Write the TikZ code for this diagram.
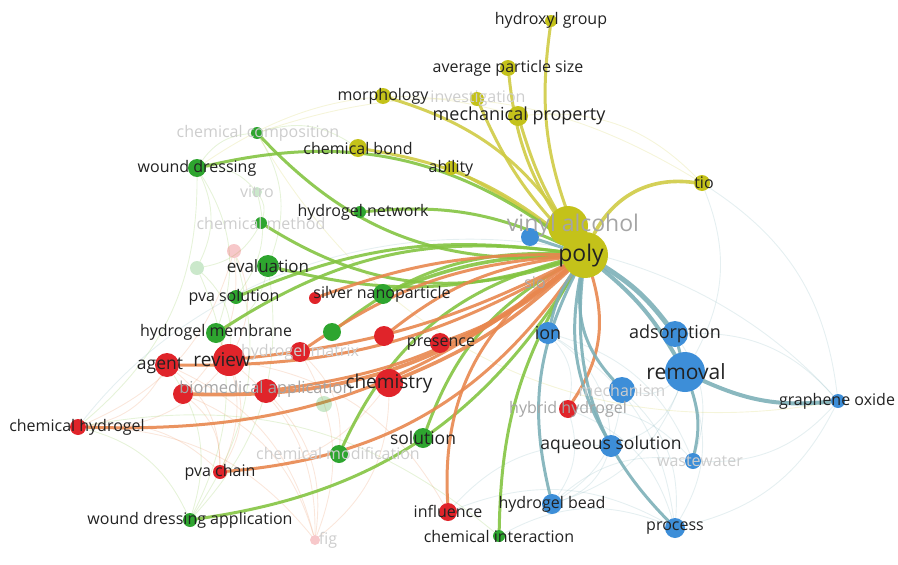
\documentclass[tikz,border=0pt]{standalone}
\usepackage{fontspec}
\setmainfont{Open Sans}
\usetikzlibrary{backgrounds}
\definecolor{yelnode}{HTML}{C4C21A}
\definecolor{grnnode}{HTML}{2EA52F}
\definecolor{rednode}{HTML}{E0242A}
\definecolor{blunode}{HTML}{3D8ED8}
\definecolor{yeledge}{HTML}{CFCB45}
\definecolor{grnedge}{HTML}{84C442}
\definecolor{rededge}{HTML}{E8874F}
\definecolor{bluedge}{HTML}{7DB0B8}
\definecolor{labeltext}{HTML}{222222}
\definecolor{dimtext}{HTML}{A5A5A5}
\definecolor{paletext}{HTML}{CDCDCD}
\tikzset{
  term/.style={circle, inner sep=0pt, minimum size=#1},
  yterm/.style={term=#1, fill=yelnode},
  gterm/.style={term=#1, fill=grnnode},
  rterm/.style={term=#1, fill=rednode},
  bterm/.style={term=#1, fill=blunode},
  ghost/.style={fill opacity=0.25},
  lbl/.style={font=\fontsize{16}{16}\selectfont, text=labeltext, inner sep=0pt},
  fs/.style={font=\fontsize{#1}{#1}\selectfont},
  dim/.style={lbl, text=dimtext},
  pale/.style={lbl, text=paletext},
  link/.style={line width=3pt, line cap=round, opacity=0.9},
  ylink/.style={link, draw=yeledge},
  glink/.style={link, draw=grnedge},
  rlink/.style={link, draw=rededge},
  blink/.style={link, draw=bluedge},
  haze/.style={line width=0.9pt, opacity=0.2}
}

\begin{document}
\begin{tikzpicture}[x=1pt, y=-1pt]
\useasboundingbox (0,0) rectangle (898,565);

% yellow cluster
\node[yterm=40] (vinyl) at (568,226) {};
\node[yterm=12] (hydroxyl) at (551,21) {};
\node[yterm=16] (avgsize) at (508,68) {};
\node[yterm=14] (invest) at (477,99) {};
\node[yterm=20] (mechprop) at (518,116) {};
\node[yterm=16] (morph) at (383,96) {};
\node[yterm=18] (chembond) at (358,148) {};
\node[yterm=14] (ability) at (451,168) {};
\node[yterm=16] (tio) at (702,183) {};
\node[yterm=8, ghost] (sio) at (535,283) {};

% blue cluster
\node[bterm=18] (bvinyl) at (530,237) {};
\node[bterm=22] (ion) at (548,333) {};
\node[bterm=26] (adsorp) at (675,334) {};
\node[bterm=40] (removal) at (685,372) {};
\node[bterm=26] (mechan) at (622,390) {};
\node[bterm=14] (graphene) at (838,401) {};
\node[bterm=22] (aqueous) at (611,446) {};
\node[bterm=16] (wastew) at (693,461) {};
\node[bterm=20] (bead) at (552,504) {};
\node[bterm=20] (process) at (675,528) {};

% green cluster
\node[gterm=12] (chemcomp) at (257,133) {};
\node[gterm=18] (wound) at (197,168) {};
\node[gterm=10, ghost] (vitro) at (257,192) {};
\node[gterm=12] (hnet) at (360,212) {};
\node[gterm=12] (chemmeth) at (261,223) {};
\node[gterm=22] (eval) at (268,266) {};
\node[gterm=14, ghost] (gfaint) at (197,268) {};
\node[gterm=14] (pvasol) at (236,297) {};
\node[gterm=20] (silver) at (383,294) {};
\node[gterm=20] (membrane) at (216,333) {};
\node[gterm=18] (gmid) at (332,332) {};
\node[gterm=16, ghost] (gfaint2) at (324,404) {};
\node[gterm=20] (solution) at (423,438) {};
\node[gterm=18] (chemmod) at (339,454) {};
\node[gterm=14] (wda) at (190,520) {};
\node[gterm=12] (chemint) at (499,536) {};

% red cluster
\node[rterm=14, ghost] (rfaint) at (234,251) {};
\node[rterm=12] (rsmall) at (315,298) {};
\node[rterm=20] (hmatrix) at (300,352) {};
\node[rterm=20] (rmid) at (384,336) {};
\node[rterm=20] (presence) at (440,343) {};
\node[rterm=24] (agent) at (167,365) {};
\node[rterm=32] (review) at (229,360) {};
\node[rterm=20] (biomeda) at (183,394) {};
\node[rterm=24] (biomedb) at (266,391) {};
\node[rterm=28] (chemistry) at (389,383) {};
\node[rterm=16] (chemhyd) at (78,427) {};
\node[rterm=14] (pvachain) at (220,472) {};
\node[rterm=18] (influence) at (448,512) {};
\node[rterm=18] (hybrid) at (568,409) {};
\node[rterm=10, ghost] (fig) at (315,540) {};

\node[yterm=46] (poly) at (585,255) {};

% labels
\node[pale] (lchemcomp) at (258,133) {chemical composition};
\node[pale] (lvitro) at (257,192) {vitro};
\node[pale] (lchemmeth) at (261,223) {chemical method};
\node[pale] (linvest) at (478,99) {investigation};
\node[pale] (lhmatrix) at (300,352) {hydrogel matrix};
\node[pale] (lchemmod) at (338,453) {chemical modification};
\node[pale] (lfig) at (328,540) {fig};
\node[pale] (lwastew) at (700,461) {wastewater};
\node[pale] (lmechan) at (622,390) {mechanism};
\node[dim, fs=23] (lvinyl) at (573,226) {vinyl alcohol};
\node[dim] (lsio) at (535,283) {sio};
\node[dim, fs=16.5] (lbiomed) at (266,389) {biomedical application};
\node[dim] (lhybrid) at (568,409) {hybrid hydrogel};

\node[lbl] (lhydroxyl) at (551,20) {hydroxyl group};
\node[lbl] (lavgsize) at (508,68) {average particle size};
\node[lbl, fs=18] (lmechprop) at (519,116) {mechanical property};
\node[lbl] (lmorph) at (383,96) {morphology};
\node[lbl] (lchembond) at (358,148) {chemical bond};
\node[lbl] (lability) at (451,168) {ability};
\node[lbl] (ltio) at (704,183) {tio};
\node[lbl, fs=23] (lpoly) at (581,256) {poly};
\node[lbl, fs=18] (lion) at (548,333) {ion};
\node[lbl, fs=18] (ladsorp) at (675,334) {adsorption};
\node[lbl, fs=21] (lremoval) at (686,372) {removal};
\node[lbl] (lgraphene) at (837,401) {graphene oxide};
\node[lbl, fs=17.5] (laqueous) at (611,445) {aqueous solution};
\node[lbl] (lbead) at (552,504) {hydrogel bead};
\node[lbl] (lprocess) at (675,528) {process};
\node[lbl] (lwound) at (197,168) {wound dressing};
\node[lbl] (lhnet) at (363,212) {hydrogel network};
\node[lbl, fs=17] (leval) at (268,266) {evaluation};
\node[lbl] (lpvasol) at (234,297) {pva solution};
\node[lbl] (lsilver) at (382,294) {silver nanoparticle};
\node[lbl] (lmembrane) at (216,332) {hydrogel membrane};
\node[lbl, fs=17.5] (lsolution) at (423,438) {solution};
\node[lbl] (lwda) at (190,520) {wound dressing application};
\node[lbl] (lchemint) at (499,536) {chemical interaction};
\node[lbl, fs=19] (lreview) at (222,360) {review};
\node[lbl, fs=17.5] (lagent) at (160,366) {agent};
\node[lbl] (lpresence) at (441,344) {presence};
\node[lbl, fs=19] (lchemistry) at (389,384) {chemistry};
\node[lbl] (lchemhyd) at (77,427) {chemical hydrogel};
\node[lbl] (lpvachain) at (220,472) {pva chain};
\node[lbl] (linfluence) at (448,511) {influence};

\begin{pgfonlayer}{background}
% faint web behind the clusters
\foreach \a/\b in {review/chemhyd, review/pvachain, review/fig, agent/chemhyd, agent/fig,
  biomeda/pvachain, biomeda/fig, chemhyd/pvachain, hmatrix/fig, chemistry/fig, chemistry/pvachain,
  rfaint/chemhyd, rfaint/review, hmatrix/chemmod, membrane/pvachain, rfaint/biomeda, agent/pvachain,
  review/influence, biomedb/fig, chemhyd/fig}
  \draw[haze, draw=rededge] (\a) to[bend left=25] (\b);
\foreach \a/\b in {wound/chemcomp, wound/vitro, wound/gfaint, wound/membrane, chemcomp/eval,
  vitro/pvasol, chemmeth/gfaint, eval/membrane, gfaint/wda, chemcomp/chembond, vitro/chemmeth,
  eval/wda, agent/wda, chemhyd/wda, rfaint/wda, gfaint/review, wound/chemhyd, chemhyd/chemint}
  \draw[haze, draw=grnedge] (\a) to[bend left=25] (\b);
\foreach \a/\b in {removal/process, removal/bead, removal/aqueous, removal/mechan, adsorp/wastew,
  adsorp/graphene, graphene/process, graphene/wastew, mechan/process, ion/process, ion/aqueous,
  hybrid/process, hybrid/bead, bead/wastew, influence/process, chemint/process, ion/wastew,
  aqueous/bead, hybrid/wastew, mechan/bead, ion/hybrid, influence/aqueous, tio/graphene, tio/removal}
  \draw[haze, draw=bluedge] (\a) to[bend left=25] (\b);
\foreach \a/\b in {mechprop/tio, chemcomp/tio, wound/mechprop}
  \draw[haze, draw=yeledge] (\a) to[bend left=25] (\b);
\draw[haze, draw=bluedge] (chemhyd) to[bend left=50] (graphene);
\draw[haze, draw=yeledge] (chemcomp) to[bend right=35] (graphene);

% yellow links
\draw[ylink] (poly) to[bend left=15] (hydroxyl);
\draw[ylink] (poly) to[bend left=15] (avgsize);
\draw[ylink] (poly) to[bend left=8] (mechprop);
\draw[ylink] (poly) to[bend left=10] (invest);
\draw[ylink] (poly) to[bend right=20] (morph);
\draw[ylink] (poly) to[bend right=15] (chembond);
\draw[ylink] (poly) to[bend right=5] (ability);
\draw[ylink, line width=3.6pt] (poly) to[bend left=35] (tio);
\draw[ylink, line width=4pt] (poly) -- (vinyl);
% green links
\draw[glink] (poly) to[bend right=25] (wound);
\draw[glink] (poly) to[bend left=25] (chemcomp);
\draw[glink] (poly) to[bend right=15] (hnet);
\draw[glink] (poly) to[bend left=25] (chemmeth);
\draw[glink] (poly) to[bend left=15] (eval);
\draw[glink] (poly) to[bend right=15] (pvasol);
\draw[glink, line width=3.6pt] (poly) to[bend right=10] (silver);
\draw[glink] (poly) to[bend right=20] (membrane);
\draw[glink] (poly) to[bend right=20] (gmid);
\draw[glink] (poly) to[bend right=20] (solution);
\draw[glink] (poly) to[bend right=25] (chemmod);
\draw[glink] (poly) to[bend left=25] (wda);
\draw[glink] (poly) to[bend right=15] (chemint);
% red links
\draw[rlink] (poly) to[bend left=10] (review);
\draw[rlink] (poly) to[bend left=15] (agent);
\draw[rlink, line width=3.8pt] (poly) to[bend left=20] (biomeda);
\draw[rlink] (poly) to[bend left=15] (biomedb);
\draw[rlink, line width=3.6pt] (poly) to[bend left=10] (chemistry);
\draw[rlink] (poly) to[bend left=10] (presence);
\draw[rlink] (poly) to[bend right=15] (hmatrix);
\draw[rlink] (poly) to[bend right=15] (rmid);
\draw[rlink] (poly) to[bend right=10] (rsmall);
\draw[rlink] (poly) to[bend left=20] (chemhyd);
\draw[rlink] (poly) to[bend left=25] (pvachain);
\draw[rlink] (poly) to[bend right=30] (influence);
\draw[rlink] (poly) to[bend left=25] (hybrid);
% blue links
\draw[blink] (poly) -- (bvinyl);
\draw[blink] (poly) to[bend right=10] (ion);
\draw[blink, line width=5pt] (poly) to[bend left=10] (adsorp);
\draw[blink, line width=4pt] (poly) to[bend left=10] (removal);
\draw[blink] (poly) to[bend right=25] (mechan);
\draw[blink] (poly) to[bend right=20] (aqueous);
\draw[blink] (poly) to[bend right=20] (bead);
\draw[blink] (poly) to[bend right=25] (process);
\draw[blink, line width=4pt] (removal) to[bend right=15] (graphene);
\draw[blink] (removal) to[bend left=15] (wastew);
\draw[blink] (adsorp) -- (removal);
\end{pgfonlayer}

\end{tikzpicture}
\end{document}
